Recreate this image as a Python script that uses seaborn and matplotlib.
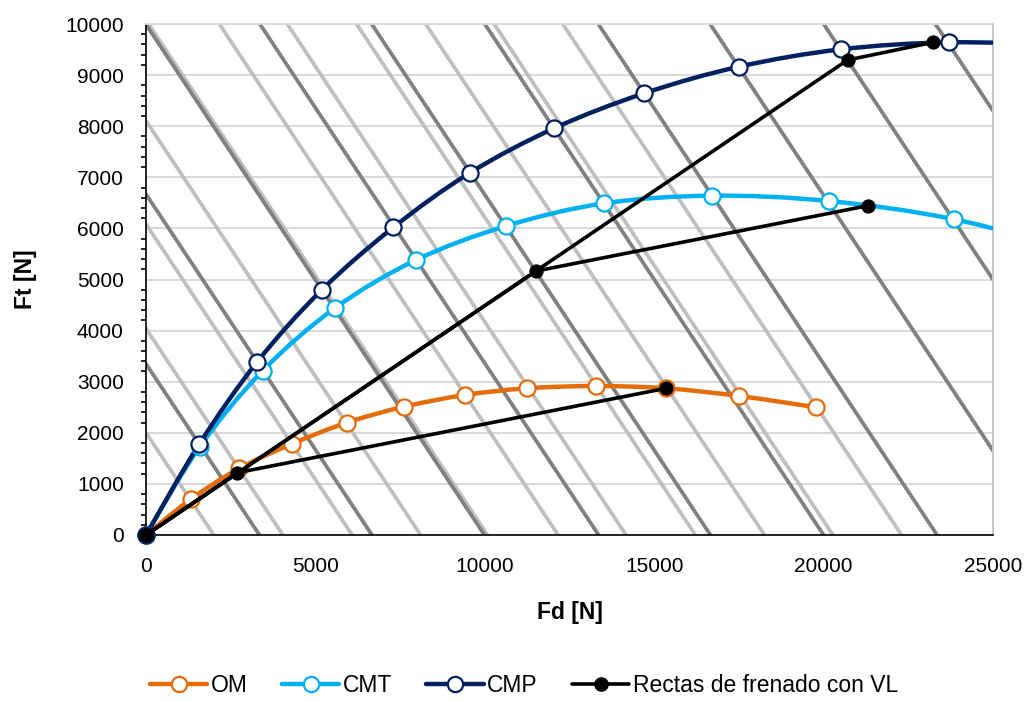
import matplotlib
matplotlib.use("Agg")
import matplotlib.pyplot as plt
import numpy as np
import seaborn as sns
from matplotlib.lines import Line2D
from matplotlib.path import Path
from matplotlib.patches import PathPatch
from matplotlib.ticker import MultipleLocator

# Curves (Fd, Ft in N). Last CMT/CMP points lie past the
# right edge; they only steer the line to the border.
om_fd = [0, 1320, 2755, 4302, 5926, 7617, 9418, 11240, 13286, 15353, 17517, 19781]
om_ft = [0, 699, 1305, 1781, 2198, 2511, 2740, 2871, 2916, 2871, 2720, 2499]

cmt_fd = [0, 1580, 3445, 5580, 7972, 10629, 13522, 16702, 20145, 23856, 27800]
cmt_ft = [0, 1720, 3215, 4442, 5382, 6047, 6491, 6640, 6536, 6178, 5500]

cmp_fd = [0, 1574, 3286, 5187, 7302, 9566, 12046, 14703, 17508, 20510, 23688, 27000]
cmp_ft = [0, 1781, 3391, 4795, 6021, 7090, 7959, 8644, 9165, 9504, 9641, 9590]

# braking lines with limiting valve: origin -> bend -> end, one per load case
vl_bend_fd = [2696, 11515, 20706]
vl_bend_ft = [1219, 5166, 9295]
vl_end_fd = [15353, 21308, 23227]
vl_end_ft = [2871, 6444, 9641]

# Fd + Ft = const guide lines
dark_totals = [3350, 6670, 9990, 13360, 16660, 20000, 23350, 26650, 30000, 33300]
light_totals = [2000, 4040, 6085, 8105, 10080, 12165, 14170, 16215, 18255, 20275, 22300]

ORANGE = "#E46C0A"
SKY = "#00B0F0"
NAVY = "#002060"
X_MAX = 25000
Y_MAX = 10000


def smooth_path(xs, ys):
    """Excel style smoothed line as cubic bezier segments."""
    pts = np.column_stack([xs, ys]).astype(float)
    n = len(pts)
    verts = [pts[0]]
    codes = [Path.MOVETO]
    for i in range(n - 1):
        p_prev = pts[max(i - 1, 0)]
        p_next = pts[min(i + 2, n - 1)]
        c1 = pts[i] + (pts[i + 1] - p_prev) / 6.0
        c2 = pts[i + 1] - (p_next - pts[i]) / 6.0
        verts += [c1, c2, pts[i + 1]]
        codes += [Path.CURVE4] * 3
    return Path(verts, codes)


def draw_curve(ax, xs, ys, color):
    patch = PathPatch(smooth_path(xs, ys), facecolor="none", edgecolor=color,
                      lw=3.2, capstyle="round", joinstyle="round", zorder=4)
    ax.add_patch(patch)
    inside = np.array(xs) <= X_MAX
    sns.scatterplot(x=np.array(xs)[inside], y=np.array(ys)[inside], ax=ax,
                    marker="o", s=135, color="white", edgecolor=color,
                    linewidth=1.6, zorder=5, clip_on=False, legend=False)


sns.set_style("white")
plt.rcParams["font.family"] = ["Liberation Sans", "DejaVu Sans"]
plt.rcParams["text.color"] = "black"
plt.rcParams["axes.labelcolor"] = "black"
plt.rcParams["xtick.color"] = "black"
plt.rcParams["ytick.color"] = "black"

fig = plt.figure(figsize=(10.29, 7.02), dpi=100)
ax = fig.add_axes([146 / 1029, 1 - 535 / 702, 847 / 1029, 511 / 702])

for total in light_totals:
    ax.axline((total, 0), slope=-1, color="#BFBFBF", lw=2.7, zorder=1)
for total in dark_totals:
    ax.axline((total, 0), slope=-1, color="#808080", lw=2.7, zorder=2)

draw_curve(ax, om_fd, om_ft, ORANGE)
draw_curve(ax, cmt_fd, cmt_ft, SKY)
draw_curve(ax, cmp_fd, cmp_ft, NAVY)

for bx, by, ex, ey in zip(vl_bend_fd, vl_bend_ft, vl_end_fd, vl_end_ft):
    sns.lineplot(x=[0, bx, ex], y=[0, by, ey], ax=ax, sort=False,
                 color="black", lw=2.6, marker="o", markersize=9.5,
                 markeredgecolor="black", zorder=6, clip_on=False)

ax.set_xlim(0, X_MAX)
ax.set_ylim(0, Y_MAX)
ax.xaxis.set_major_locator(MultipleLocator(5000))
ax.yaxis.set_major_locator(MultipleLocator(1000))
ax.yaxis.set_minor_locator(MultipleLocator(200))
ax.grid(axis="y", color="#D9D9D9", lw=1.4, zorder=0)
ax.grid(axis="x", visible=False)
ax.set_axisbelow(True)

for side in ["left", "bottom"]:
    ax.spines[side].set_color("black")
    ax.spines[side].set_linewidth(1.2)
ax.spines["top"].set_color("#D9D9D9")
ax.spines["right"].set_color("#C8C8C8")
ax.spines["top"].set_linewidth(1.4)
ax.spines["right"].set_linewidth(1.4)

ax.tick_params(axis="both", which="major", direction="out", length=6,
               width=1.2, color="black", labelcolor="black", labelsize=15,
               pad=10)
ax.tick_params(axis="y", which="minor", direction="out", length=3.5,
               width=1.2, color="black", left=True)
ax.tick_params(axis="x", which="minor", bottom=False)

ax.set_xlabel("Fd [N]", fontsize=16.5, fontweight="bold", labelpad=18)
ax.set_ylabel("Ft [N]", fontsize=16.5, fontweight="bold", labelpad=20)

handles = [
    Line2D([], [], color=ORANGE, lw=3.2, marker="o", markersize=11,
           markerfacecolor="white", markeredgecolor=ORANGE, markeredgewidth=1.6),
    Line2D([], [], color=SKY, lw=3.2, marker="o", markersize=11,
           markerfacecolor="white", markeredgecolor=SKY, markeredgewidth=1.6),
    Line2D([], [], color=NAVY, lw=3.2, marker="o", markersize=11,
           markerfacecolor="white", markeredgecolor=NAVY, markeredgewidth=1.6),
    Line2D([], [], color="black", lw=2.6, marker="o", markersize=9.5,
           markerfacecolor="black", markeredgecolor="black"),
]
labels = ["OM", "CMT", "CMP", "Rectas de frenado con VL"]
fig.legend(handles, labels, loc="center", bbox_to_anchor=(524 / 1029, 1 - 686 / 702),
           ncol=4, frameon=False, fontsize=16.5, handlelength=2.5,
           handletextpad=0.15, columnspacing=1.5)

fig.savefig("out.png", dpi=100)
